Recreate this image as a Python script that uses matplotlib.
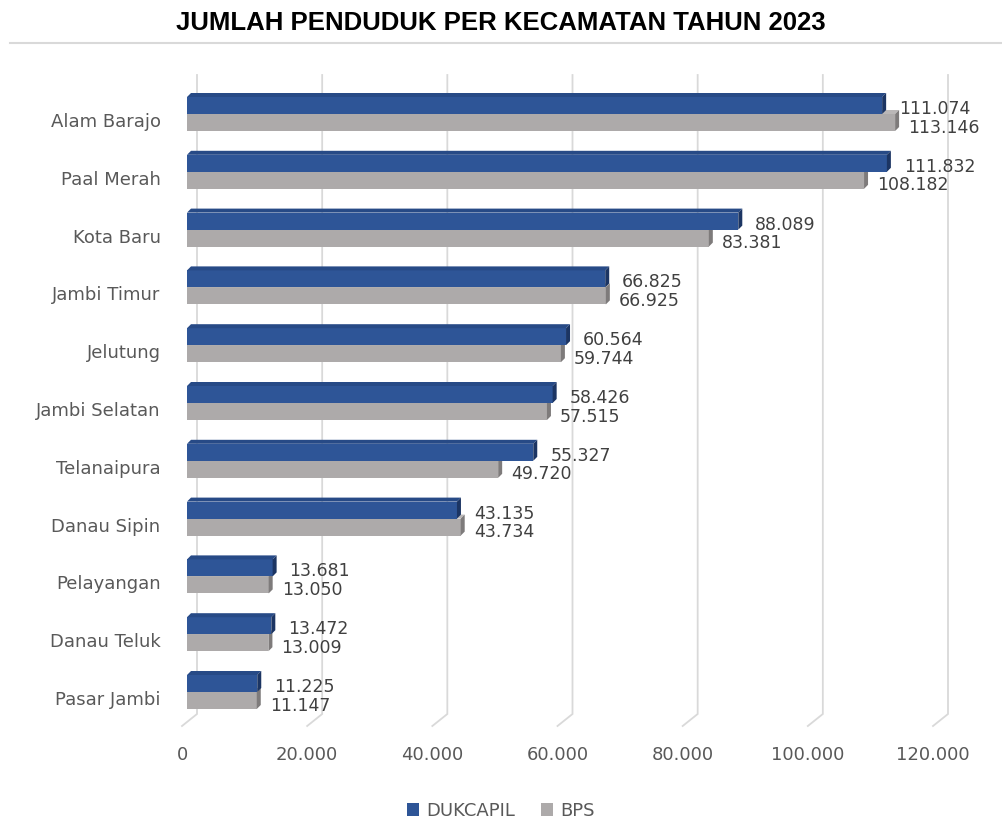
import matplotlib
matplotlib.use("Agg")
import matplotlib.pyplot as plt
from matplotlib.patches import Polygon, Patch
import matplotlib.transforms as mtransforms

# data (top to bottom)
kecamatan = ["Alam Barajo", "Paal Merah", "Kota Baru", "Jambi Timur", "Jelutung",
             "Jambi Selatan", "Telanaipura", "Danau Sipin", "Pelayangan",
             "Danau Teluk", "Pasar Jambi"]
dukcapil = [111074, 111832, 88089, 66825, 60564, 58426, 55327, 43135, 13681, 13472, 11225]
bps = [113146, 108182, 83381, 66925, 59744, 57515, 49720, 43734, 13050, 13009, 11147]
x_ticks = [0, 20000, 40000, 60000, 80000, 100000, 120000]

BLUE, BLUE_TOP, BLUE_SIDE = "#2E5597", "#274A86", "#1C3563"
GREY, GREY_TOP, GREY_SIDE = "#ADAAAA", "#BAB7B7", "#7E7B7B"
TXT = "#595959"
FONT = "DejaVu Sans"

W, H = 1002, 822
fig = plt.figure(figsize=(W / 100, H / 100), dpi=100)

# plot area in pixels: bars plane 0 -> x=187, 120000 -> x=938 ; y 60..740
ax_l, ax_r, ax_t, ax_b = 187, 938, 60, 740
ax = fig.add_axes([ax_l / W, (H - ax_b) / H, (ax_r - ax_l) / W, (ax_b - ax_t) / H])
XMAX = 120000
ROW = 57.8           # px between categories
Y0 = 120             # px of first category centre
ax.set_xlim(0, XMAX)
ax.set_ylim((ax_b - Y0) / ROW, (ax_t - Y0) / ROW)
for s in ax.spines.values():
    s.set_visible(False)

px = XMAX / (ax_r - ax_l)   # value units per pixel
py = 1 / ROW                # category units per pixel

def ypix(p):
    return (p - Y0) / ROW

# back wall gridlines with floor slant
for t in x_ticks:
    ax.plot([t + 10 * px, t + 10 * px, t - 5 * px],
            [ypix(75), ypix(714), ypix(726)],
            color="#D9D9D9", lw=1.3, zorder=0, clip_on=False,
            solid_joinstyle="miter")

bh = 17 * py
dx, dy = 4 * px, 4 * py

def bar3d(y_top, v, front, top, side):
    y_bot = y_top + bh
    ax.barh(y_top + bh / 2, v, height=bh, color=front, zorder=2, linewidth=0)
    ax.add_patch(Polygon([(0, y_top), (v, y_top), (v + dx, y_top - dy), (dx, y_top - dy)],
                         closed=True, facecolor=top, edgecolor="none", zorder=2))
    ax.add_patch(Polygon([(v, y_top), (v + dx, y_top - dy), (v + dx, y_bot - dy), (v, y_bot)],
                         closed=True, facecolor=side, edgecolor="none", zorder=2))

def fmt(v):
    return f"{v:,}".replace(",", ".")

for i, (d, b) in enumerate(zip(dukcapil, bps)):
    blue_top = i + ypix(97) - ypix(120)
    grey_top = blue_top + bh
    bar3d(grey_top, b, GREY, GREY_TOP, GREY_SIDE)
    bar3d(blue_top, d, BLUE, BLUE_TOP, BLUE_SIDE)
    ax.text(d + 17 * px, blue_top + bh / 2 + 3.5 * py, fmt(d), ha="left", va="center",
            fontsize=12.5, color="#404040", family=FONT, zorder=3)
    ax.text(b + 13 * px, grey_top + bh / 2 + 5 * py, fmt(b), ha="left", va="center",
            fontsize=12.5, color="#404040", family=FONT, zorder=3)

# category labels
ax.set_yticks(range(len(kecamatan)))
ax.set_yticklabels(kecamatan, family=FONT, fontsize=13, color=TXT)
ax.tick_params(axis="y", length=0, pad=19)

# value axis labels on the front plane
ax.set_xticks(x_ticks)
ax.set_xticklabels([fmt(t) for t in x_ticks], family=FONT, fontsize=13, color=TXT)
ax.tick_params(axis="x", length=0, pad=4)
shift = mtransforms.ScaledTranslation(-5 / 100, 0, fig.dpi_scale_trans)
for lab in ax.get_xticklabels():
    lab.set_transform(lab.get_transform() + shift)

# title and rule
fig.text(0.5, 1 - 23 / H, "JUMLAH PENDUDUK PER KECAMATAN TAHUN 2023", ha="center", va="center",
         fontsize=18.5, fontweight="bold", family="Liberation Sans", color="#000000")
fig.add_artist(plt.Line2D([10 / W, 1], [1 - 43 / H, 1 - 43 / H], color="#D9D9D9", lw=1.5))

handles = [Patch(facecolor=BLUE, label="DUKCAPIL"), Patch(facecolor=GREY, label="BPS")]
fig.legend(handles=handles, loc="center", bbox_to_anchor=(0.5, 1 - 811 / H), ncol=2,
           frameon=False, prop={"family": FONT, "size": 13}, labelcolor=TXT,
           handlelength=0.7, handleheight=0.7, handletextpad=0.4, columnspacing=1.4)

fig.savefig("out.png", dpi=100, facecolor="white")
